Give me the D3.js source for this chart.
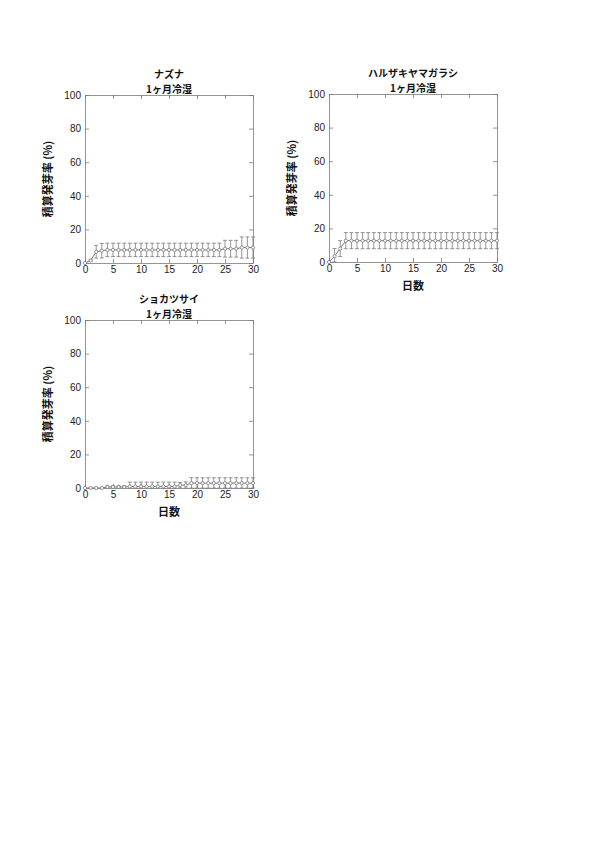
<!DOCTYPE html>
<html>
<head>
<meta charset="utf-8">
<script src="https://cdn.jsdelivr.net/npm/d3@7"></script>
<style>
  body { margin: 0; background: #fff; }
  svg { display: block; }
</style>
</head>
<body>
<div id="chart"></div>
<script>
  // days 0..30
  const days = [0, 1, 2, 3, 4, 5, 6, 7, 8, 9, 10, 11, 12, 13, 14, 15, 16, 17, 18, 19, 20, 21, 22, 23, 24, 25, 26, 27, 28, 29, 30];

  const nazunaMean = [0, 1.5, 6.7, 7.3, 7.8, 7.8, 7.8, 7.8, 7.8, 7.8, 7.8, 7.8, 7.8, 7.8, 7.8, 7.8, 7.8, 7.8, 7.8, 7.8, 7.8, 7.8, 7.8, 7.8, 7.8, 8.5, 8.5, 8.5, 9.2, 9.2, 9.2];
  const nazunaErr = [0, 0.5, 3.8, 4.3, 4, 4, 4, 4, 4, 4, 4, 4, 4, 4, 4, 4, 4, 4, 4, 4, 4, 4, 4, 4, 4, 5, 5, 5, 6.3, 6.3, 6.3];

  const haruMean = [0, 3.5, 8, 12.7, 12.7, 12.7, 12.7, 12.7, 12.7, 12.7, 12.7, 12.7, 12.7, 12.7, 12.7, 12.7, 12.7, 12.7, 12.7, 12.7, 12.7, 12.7, 12.7, 12.7, 12.7, 12.7, 12.7, 12.7, 12.7, 12.7, 12.7];
  const haruErr = [0, 4.5, 4.7, 4.8, 4.8, 4.8, 4.8, 4.8, 4.8, 4.8, 4.8, 4.8, 4.8, 4.8, 4.8, 4.8, 4.8, 4.8, 4.8, 4.8, 4.8, 4.8, 4.8, 4.8, 4.8, 4.8, 4.8, 4.8, 4.8, 4.8, 4.8];

  const shokatsuMean = [0, 0, 0, 0, 0.6, 0.6, 0.6, 0.6, 0.9, 0.9, 0.9, 0.9, 0.9, 0.9, 0.9, 0.9, 0.9, 1.7, 1.7, 2.9, 2.9, 2.9, 2.9, 2.9, 2.9, 2.9, 2.9, 2.9, 2.9, 2.9, 2.9];
  const shokatsuErr = [0, 0, 0, 0, 0.7, 0.7, 0.7, 0.7, 2.6, 2.6, 2.6, 2.6, 2.6, 2.6, 2.6, 2.6, 2.6, 1.6, 2, 3.2, 3.2, 3.2, 3.2, 3.2, 3.2, 3.2, 3.2, 3.2, 3.2, 3.2, 3.2];

  const xTicks = [0, 5, 10, 15, 20, 25, 30];
  const yTicks = [0, 20, 40, 60, 80, 100];
  const subtitle = '1ヶ月冷湿';
  const yLabel = '積算発芽率 (%)';
  const xLabel = '日数';

  const panels = [
    { name: 'ナズナ', mean: nazunaMean, err: nazunaErr, left: 85, top: 95, showX: false },
    { name: 'ハルザキヤマガラシ', mean: haruMean, err: haruErr, left: 329, top: 94, showX: true },
    { name: 'ショカツサイ', mean: shokatsuMean, err: shokatsuErr, left: 85, top: 320, showX: true }
  ];

  const W = 595, H = 842;
  const pw = 168, ph = 168;
  const grey = '#7a7a7a';
  const sans = '"Liberation Sans", Arial, sans-serif';
  const cjk = '"Noto Sans CJK JP", sans-serif';

  const svg = d3.select('#chart').append('svg')
    .attr('width', W).attr('height', H);

  panels.forEach(function (p) {
    const x = d3.scaleLinear().domain([0, 30]).range([0, pw]);
    const y = d3.scaleLinear().domain([0, 100]).range([ph, 0]);
    const g = svg.append('g').attr('transform', 'translate(' + p.left + ',' + p.top + ')');

    // axes with inward ticks on all four sides
    function styleAxis(sel, showLabels) {
      sel.select('.domain').attr('stroke', grey).attr('stroke-width', 0.8);
      sel.selectAll('.tick line').attr('stroke', grey).attr('stroke-width', 0.8);
      sel.selectAll('.tick text')
        .attr('font-family', sans).attr('font-size', 10).attr('fill', '#222')
        .style('display', showLabels ? null : 'none');
    }
    g.append('g').attr('transform', 'translate(0,' + ph + ')')
      .call(d3.axisBottom(x).tickValues(xTicks).tickSize(-4).tickPadding(3).tickSizeOuter(0))
      .call(styleAxis, true);
    g.append('g')
      .call(d3.axisTop(x).tickValues(xTicks).tickSize(-4).tickSizeOuter(0))
      .call(styleAxis, false);
    g.append('g')
      .call(d3.axisLeft(y).tickValues(yTicks).tickSize(-4).tickPadding(4).tickSizeOuter(0))
      .call(styleAxis, true);
    g.append('g').attr('transform', 'translate(' + pw + ',0)')
      .call(d3.axisRight(y).tickValues(yTicks).tickSize(-4).tickSizeOuter(0))
      .call(styleAxis, false);

    const pts = days.map(function (d, i) { return { d: d, m: p.mean[i], e: p.err[i] }; });

    // error bars
    const eb = g.append('g').attr('stroke', grey).attr('stroke-width', 0.8);
    pts.filter(function (q) { return q.e > 0; }).forEach(function (q) {
      const cx = x(q.d);
      const y1 = y(Math.max(0, q.m - q.e)), y2 = y(q.m + q.e);
      eb.append('line').attr('x1', cx).attr('x2', cx).attr('y1', y1).attr('y2', y2);
      eb.append('line').attr('x1', cx - 2).attr('x2', cx + 2).attr('y1', y2).attr('y2', y2);
      eb.append('line').attr('x1', cx - 2).attr('x2', cx + 2).attr('y1', y1).attr('y2', y1);
    });

    // line
    g.append('path').datum(pts)
      .attr('fill', 'none').attr('stroke', grey).attr('stroke-width', 1)
      .attr('d', d3.line().x(function (q) { return x(q.d); }).y(function (q) { return y(q.m); }));

    // markers
    g.append('g').selectAll('circle').data(pts).join('circle')
      .attr('cx', function (q) { return x(q.d); })
      .attr('cy', function (q) { return y(q.m); })
      .attr('r', 1.6)
      .attr('fill', '#fff').attr('stroke', grey).attr('stroke-width', 0.8);

    // titles
    g.append('text').attr('x', pw / 2).attr('y', -17)
      .attr('text-anchor', 'middle').attr('font-family', cjk).attr('font-size', 10)
      .attr('font-weight', 'bold').attr('fill', '#111').text(p.name);
    g.append('text').attr('x', pw / 2).attr('y', -2)
      .attr('text-anchor', 'middle').attr('font-family', cjk).attr('font-size', 10)
      .attr('font-weight', 'bold').attr('fill', '#111').text(subtitle);

    // y label
    g.append('text')
      .attr('transform', 'translate(-33,' + (ph / 2) + ') rotate(-90)')
      .attr('text-anchor', 'middle').attr('font-family', cjk).attr('font-size', 11)
      .attr('font-weight', 'bold').attr('fill', '#111').text(yLabel);

    if (p.showX) {
      g.append('text').attr('x', pw / 2).attr('y', ph + 28)
        .attr('text-anchor', 'middle').attr('font-family', cjk).attr('font-size', 11)
        .attr('font-weight', 'bold').attr('fill', '#111').text(xLabel);
    }
  });
</script>
</body>
</html>
